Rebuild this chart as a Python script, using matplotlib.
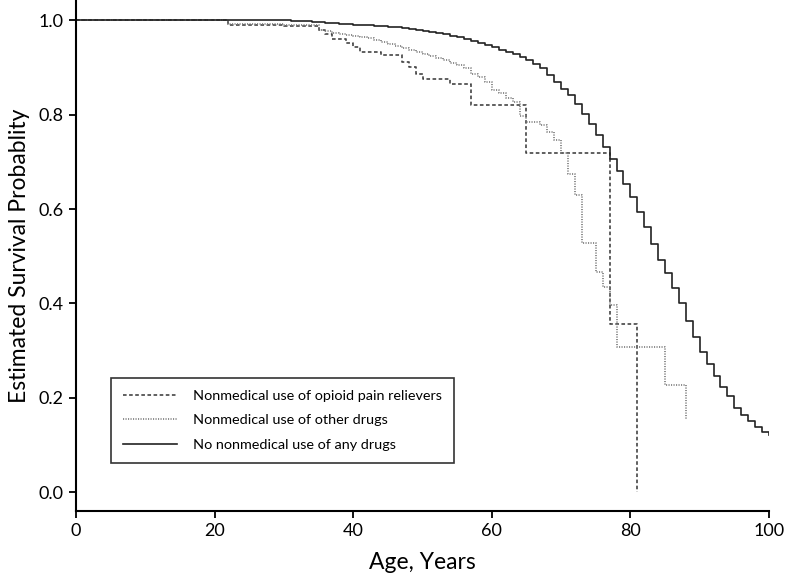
import numpy as np
import matplotlib
matplotlib.use('Agg')
import matplotlib.pyplot as plt

# Kaplan-Meier style step curves
opioid_age = [0, 22, 30, 35, 36, 37, 39, 40, 41, 44, 47, 48, 49, 50, 54, 57, 65, 77, 81]
opioid_surv = [1.0, 0.991, 0.988, 0.980, 0.972, 0.961, 0.951, 0.943, 0.933, 0.927,
               0.912, 0.901, 0.887, 0.876, 0.864, 0.820, 0.718, 0.357, 0.0]

other_age = [0, 22, 30, 35] + list(range(36, 79)) + [85, 88]
other_surv = [1.0, 0.993, 0.990, 0.980,
              0.977, 0.974, 0.971, 0.968, 0.966, 0.964, 0.962, 0.958, 0.954, 0.950,
              0.946, 0.941, 0.937, 0.933, 0.929, 0.925, 0.920, 0.915, 0.910, 0.905,
              0.898, 0.887, 0.880, 0.870, 0.852, 0.845, 0.835, 0.827, 0.797, 0.785,
              0.785, 0.778, 0.763, 0.746, 0.718, 0.675, 0.629, 0.529, 0.529, 0.467,
              0.435, 0.396, 0.307,
              0.228, 0.155]

none_age = [0] + list(range(30, 101))
none_surv = [1.0,
             1.0, 0.999, 0.998, 0.998, 0.997, 0.996, 0.995, 0.994, 0.993, 0.992,
             0.991, 0.990, 0.989, 0.988, 0.987, 0.986, 0.985, 0.983, 0.981, 0.979,
             0.977, 0.975, 0.973, 0.970, 0.967, 0.964, 0.960, 0.956, 0.952, 0.947,
             0.943, 0.938, 0.933, 0.928, 0.922, 0.915, 0.908, 0.898, 0.883, 0.870,
             0.855, 0.841, 0.823, 0.802, 0.781, 0.756, 0.732, 0.705, 0.681, 0.654,
             0.626, 0.594, 0.562, 0.525, 0.492, 0.465, 0.432, 0.400, 0.363, 0.328,
             0.296, 0.271, 0.246, 0.222, 0.204, 0.178, 0.164, 0.151, 0.138, 0.128,
             0.121]

labels = ['Nonmedical use of opioid pain relievers',
          'Nonmedical use of other drugs',
          'No nonmedical use of any drugs']

plt.rcParams['font.family'] = ['Lato', 'DejaVu Sans']
plt.rcParams['lines.scale_dashes'] = False

fig = plt.figure(figsize=(7.87, 5.77), dpi=100)
ax = fig.add_axes([76/787, 1 - 511/577, 693/787, 511/577])

ax.step(opioid_age, opioid_surv, where='post', color='#444444', lw=1.2,
        linestyle=(0, (2.6, 1.8)), label=labels[0])
ax.step(other_age, other_surv, where='post', color='#7a7a7a', lw=1.2,
        linestyle=(0, (0.8, 1.0)), label=labels[1])
ax.step(none_age, none_surv, where='post', color='#222222', lw=1.2,
        label=labels[2])

ax.set_xlim(0, 100)
ax.set_ylim(-0.04, 1.043)
ax.set_xticks(np.arange(0, 101, 20))
ax.set_yticks(np.arange(0, 1.01, 0.2))
ax.set_yticklabels(['%.1f' % v for v in np.arange(0, 1.01, 0.2)])

for s in ['top', 'right']:
    ax.spines[s].set_visible(False)
for s in ['left', 'bottom']:
    ax.spines[s].set_linewidth(1.5)
ax.tick_params(direction='out', length=5, width=1.3, labelsize=13, pad=4)

ax.set_xlabel('Age, Years', fontsize=16.5, labelpad=9)
ax.set_ylabel('Estimated Survival Probablity', fontsize=16.5, labelpad=6)

leg = ax.legend(loc='lower left', bbox_to_anchor=(0.0505, 0.094), fontsize=10.4,
                frameon=True, fancybox=False, edgecolor='black',
                handlelength=3.7, handletextpad=1.15, labelspacing=0.85,
                borderpad=0.85, borderaxespad=0)
leg.get_frame().set_linewidth(1.2)

fig.savefig('out.png', dpi=100)
